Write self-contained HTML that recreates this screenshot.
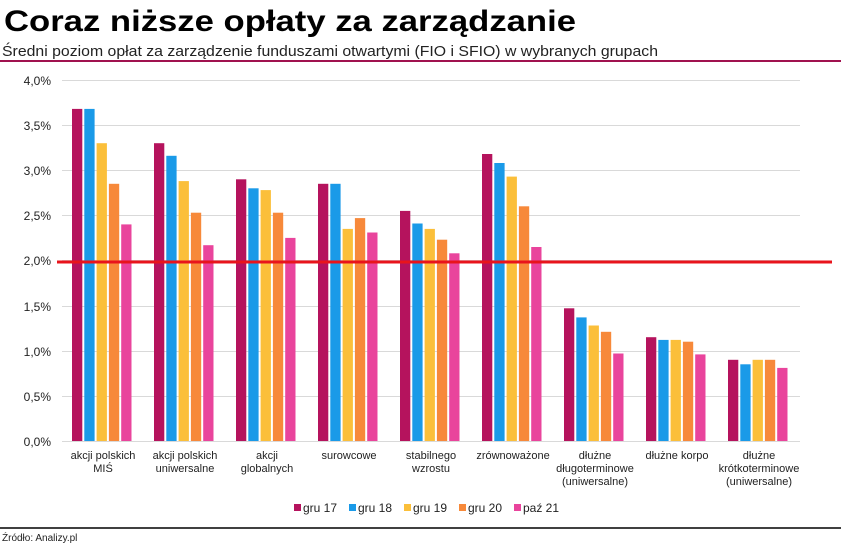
<!DOCTYPE html><html><head><meta charset="utf-8"><style>
body{margin:0;width:841px;height:546px;background:#fff;overflow:hidden;font-family:"Liberation Sans",sans-serif}
</style></head><body>
<svg width="841" height="546" xmlns="http://www.w3.org/2000/svg" font-family="Liberation Sans, sans-serif">
<text x="4" y="31" font-size="30" font-weight="bold" fill="#000" textLength="572" lengthAdjust="spacingAndGlyphs">Coraz niższe opłaty za zarządzanie</text>
<text x="2" y="56" font-size="15" fill="#222" textLength="656" lengthAdjust="spacingAndGlyphs">Średni poziom opłat za zarządzenie funduszami otwartymi (FIO i SFIO) w wybranych grupach</text>
<line x1="0" y1="61" x2="841" y2="61" stroke="#a0124f" stroke-width="2"/>
<g stroke="#d9d9d9" stroke-width="1">
<line x1="62" x2="800" y1="80.5" y2="80.5"/><line x1="62" x2="800" y1="125.5" y2="125.5"/><line x1="62" x2="800" y1="170.5" y2="170.5"/><line x1="62" x2="800" y1="215.5" y2="215.5"/><line x1="62" x2="800" y1="260.5" y2="260.5"/><line x1="62" x2="800" y1="306.5" y2="306.5"/><line x1="62" x2="800" y1="351.5" y2="351.5"/><line x1="62" x2="800" y1="396.5" y2="396.5"/><line x1="62" x2="800" y1="441.5" y2="441.5"/>
</g>
<g font-size="12" fill="#222" text-anchor="end">
<text x="51" y="85">4,0%</text><text x="51" y="130">3,5%</text><text x="51" y="175">3,0%</text><text x="51" y="220">2,5%</text><text x="51" y="265">2,0%</text><text x="51" y="311">1,5%</text><text x="51" y="356">1,0%</text><text x="51" y="401">0,5%</text><text x="51" y="446">0,0%</text>
</g>
<g id="bars"></g>
<line x1="57" y1="262" x2="832" y2="262" stroke="#e8141c" stroke-width="3"/>
<g font-size="11" fill="#222" text-anchor="middle">
<text x="103" y="459">akcji polskich</text><text x="103" y="472">MIŚ</text>
<text x="185" y="459">akcji polskich</text><text x="185" y="472">uniwersalne</text>
<text x="267" y="459">akcji</text><text x="267" y="472">globalnych</text>
<text x="349" y="459">surowcowe</text>
<text x="431" y="459">stabilnego</text><text x="431" y="472">wzrostu</text>
<text x="513" y="459">zrównoważone</text>
<text x="595" y="459">dłużne</text><text x="595" y="472">długoterminowe</text><text x="595" y="485">(uniwersalne)</text>
<text x="677" y="459">dłużne korpo</text>
<text x="759" y="459">dłużne</text><text x="759" y="472">krótkoterminowe</text><text x="759" y="485">(uniwersalne)</text>
</g>
<g font-size="12" fill="#222">
<rect x="294" y="504" width="7" height="7" fill="#b5135d"/><text x="303" y="512">gru 17</text>
<rect x="349" y="504" width="7" height="7" fill="#1a9ae8"/><text x="358" y="512">gru 18</text>
<rect x="404" y="504" width="7" height="7" fill="#fbbf3a"/><text x="413" y="512">gru 19</text>
<rect x="459" y="504" width="7" height="7" fill="#f7893a"/><text x="468" y="512">gru 20</text>
<rect x="514" y="504" width="7" height="7" fill="#e9449c"/><text x="523" y="512">paź 21</text>
</g>
<line x1="0" y1="528" x2="841" y2="528" stroke="#000" stroke-width="1.5"/>
<text x="2" y="541" font-size="10" fill="#222">Źródło: Analizy.pl</text>
</svg>
<script>
var d=[[3.68,3.68,3.30,2.85,2.40],[3.30,3.16,2.88,2.53,2.17],[2.90,2.80,2.78,2.53,2.25],[2.85,2.85,2.35,2.47,2.31],[2.55,2.41,2.35,2.23,2.08],[3.18,3.08,2.93,2.60,2.15],[1.47,1.37,1.28,1.21,0.97],[1.15,1.12,1.12,1.10,0.96],[0.90,0.85,0.90,0.90,0.81]];
var c=["#b5135d","#1a9ae8","#fbbf3a","#f7893a","#e9449c"],s="";
d.forEach(function(g,i){g.forEach(function(v,j){var h=v*90.25,x=72+i*82+j*12.3;s+='<rect x="'+x.toFixed(1)+'" y="'+(441-h).toFixed(1)+'" width="10.3" height="'+h.toFixed(1)+'" fill="'+c[j]+'"/>';});});
document.getElementById("bars").innerHTML=s;
</script>
</body></html>
